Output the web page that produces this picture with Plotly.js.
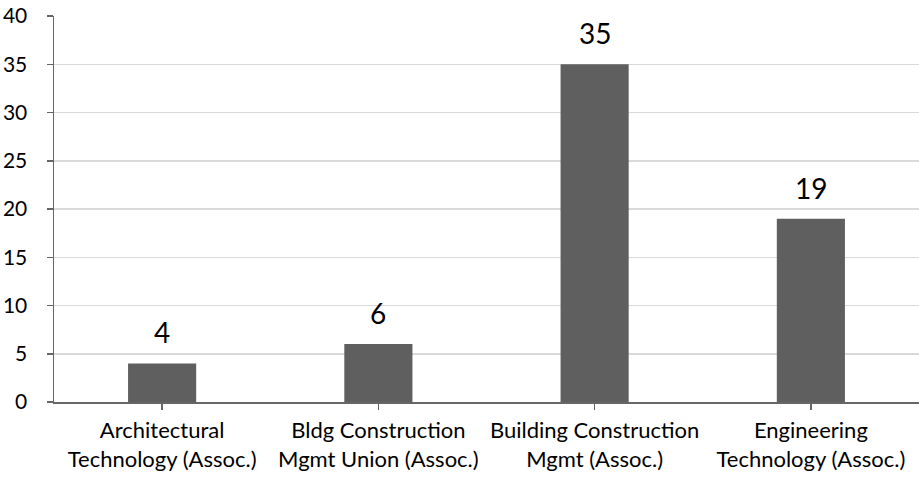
<!DOCTYPE html>
<html>
<head>
<meta charset="utf-8">
<script src="https://cdn.plot.ly/plotly-3.0.1.min.js"></script>
<style>html,body{margin:0;padding:0;background:#fff;}#chart{width:919px;height:477px;}</style>
</head>
<body>
<div id="chart"></div>
<script>
var categories = ["Architectural<br>Technology (Assoc.)", "Bldg Construction<br>Mgmt Union (Assoc.)", "Building Construction<br>Mgmt (Assoc.)", "Engineering<br>Technology (Assoc.)"];
var values = [4, 6, 35, 19];
var yTicks = [0, 5, 10, 15, 20, 25, 30, 35, 40];

var trace = {
  type: "bar",
  x: categories,
  y: values,
  marker: {color: "#5f5f5f"},
  hoverinfo: "none"
};

var annotations = values.map(function(v, i) {
  return {
    x: categories[i], y: v, xref: "x", yref: "y",
    text: String(v), showarrow: false,
    yanchor: "bottom", yshift: 12,
    font: {family: "Lato, 'Open Sans', sans-serif", size: 28, color: "#000"}
  };
});

var layout = {
  width: 919, height: 477,
  margin: {l: 54, r: 0, t: 16, b: 75, pad: 0},
  paper_bgcolor: "#fff", plot_bgcolor: "#fff",
  bargap: 0.685,
  showlegend: false,
  font: {family: "Lato, 'Open Sans', sans-serif", size: 21, color: "#000"},
  xaxis: {
    showgrid: false, showline: true, linecolor: "#666666", linewidth: 1.5,
    ticks: "outside", ticklen: 6, tickcolor: "#666666", tickwidth: 1.5,
    tickfont: {size: 22, color: "#000"}, ticklabelstandoff: 2,
    fixedrange: true
  },
  yaxis: {
    range: [0, 40], tickvals: yTicks, ticktext: yTicks.map(String),
    showgrid: true, gridcolor: "#d9d9d9", gridwidth: 1.5,
    showline: true, linecolor: "#666666", linewidth: 1.5,
    ticks: "outside", ticklen: 6, tickcolor: "#666666", tickwidth: 1.5,
    tickfont: {size: 21, color: "#000"}, ticklabelstandoff: 15,
    zeroline: false, fixedrange: true
  },
  annotations: annotations
};

Plotly.newPlot("chart", [trace], layout, {displayModeBar: false, staticPlot: true});
</script>
</body>
</html>
